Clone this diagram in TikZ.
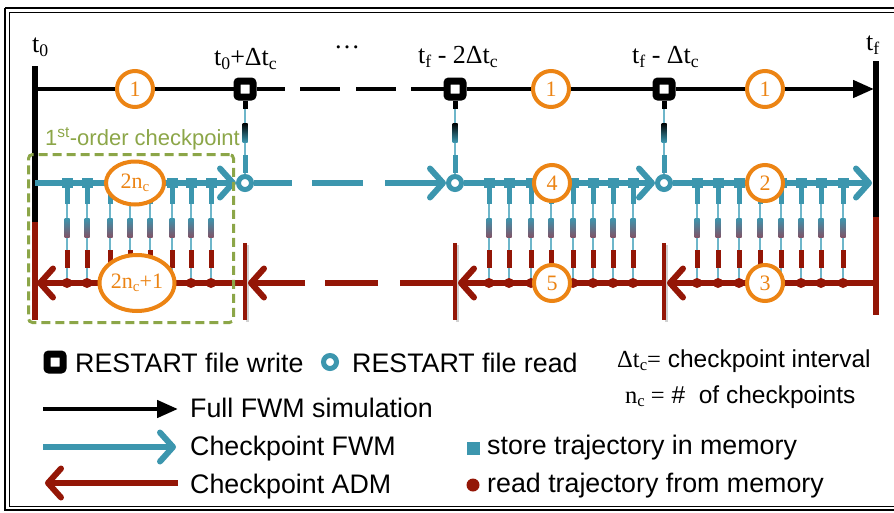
\documentclass[tikz,border=0pt]{standalone}
\usepackage{fontspec}
\setmainfont{Liberation Serif}
\newfontfamily\lsans{Liberation Sans}
\usetikzlibrary{arrows.meta,shapes.geometric,calc,backgrounds}
\definecolor{cblue}{RGB}{60,150,174}
\definecolor{cthin}{RGB}{110,182,202}
\definecolor{cred}{RGB}{148,22,6}
\definecolor{cmix}{RGB}{128,84,104}
\definecolor{corange}{RGB}{236,132,20}
\definecolor{cgreen}{RGB}{140,166,72}
\newcommand\sbx[1]{\raisebox{-0.35ex}{\scalebox{0.68}{#1}}}
\begin{document}
\begin{tikzpicture}[x=1pt,y=-1pt,
 blk/.style={line width=4.5pt, black},
 bln/.style={line width=6pt, cblue},
 rdn/.style={line width=6pt, cred},
 barb/.style={-{Straight Barb[length=13pt,width=29pt,round]}},
 tri/.style={-{Triangle[length=21pt,width=17pt]}},
 wbox/.style={draw=black, fill=white, line width=7pt, rounded corners=2pt, minimum size=16pt, inner sep=0pt},
 rcirc/.style={circle, draw=cblue, fill=white, line width=5pt, minimum size=13pt, inner sep=0pt},
 numc/.style={circle, draw=corange, fill=white, line width=4pt, minimum size=36pt, inner sep=0pt, text=corange, font=\fontsize{22}{24}\selectfont},
 nume/.style={ellipse, draw=corange, fill=white, line width=4pt, inner sep=0pt, text=corange, font=\fontsize{22}{24}\selectfont},
 tlab/.style={anchor=base west, inner sep=0pt, font=\fontsize{26}{28}\selectfont},
 leg/.style={anchor=base west, inner sep=0pt, font=\lsans\fontsize{26.8}{28}\selectfont},
 legs/.style={anchor=base west, inner sep=0pt, font=\lsans\fontsize{24.5}{28}\selectfont},
 redbar/.style={cred, line width=4pt},
]
\useasboundingbox (0,0) rectangle (894,512);
% frame
\draw[line width=2.4pt] (5,8) -- (894,8);
\draw[line width=1pt] (9,12) -- (894,12);
\draw[line width=1.4pt] (5,8) -- (5,510) -- (894,510);
\draw[line width=1pt] (9,12) -- (9,506) -- (894,506);

% coordinates
\coordinate (Lt) at (35,66); \coordinate (Lm) at (35,222); \coordinate (Lb) at (35,320);
\coordinate (Rt) at (876,61); \coordinate (Rm) at (876,217); \coordinate (Rb) at (876,315);
\coordinate (tl0) at (35,89); \coordinate (tR) at (874,89);
\coordinate (bl0) at (35,183); \coordinate (bR) at (872,183);
\coordinate (rl0) at (37,283); \coordinate (rR) at (876,283);
\coordinate (rb1) at (245,283); \coordinate (rb2) at (455,283); \coordinate (rb3) at (664,283);
\coordinate (rb1e) at (248,283); \coordinate (rb2e) at (458,283); \coordinate (rb3e) at (667,283);

% nodes
\node[wbox] (w1) at (245,89) {};
\node[wbox] (w2) at (455,89) {};
\node[wbox] (w3) at (664,89) {};
\node[rcirc] (r1) at (245,183) {};
\node[rcirc] (r2) at (455,183) {};
\node[rcirc] (r3) at (664,183) {};
\node[numc] (n1a) at (135,89) {1};
\node[numc] (n1b) at (551,89) {1};
\node[numc] (n1c) at (765,89) {1};
\node[numc] (n4) at (552,183) {4};
\node[numc] (n5) at (552,283) {5};
\node[numc] (n2) at (765,183) {2};
\node[numc] (n3) at (765,283) {3};
\node[nume, minimum width=58pt, minimum height=43pt] (e1) at (135,183) {2n\sbx{c}};
\node[nume, minimum width=75pt, minimum height=56pt] (e2) at (137,283) {2n\sbx{c}+1};
\node[draw=cgreen, line width=3pt, dash pattern=on 9pt off 5pt, rounded corners=4pt, minimum width=205pt, minimum height=168pt, inner sep=0pt] (gb) at (131,238.5) {};
\node[anchor=base west, inner sep=0pt, text=cgreen, font=\lsans\fontsize{22}{24}\selectfont] (gl) at (45,145) {1\textsuperscript{st}-order checkpoint};

% time labels
\node[tlab] (lt0) at (32,52) {t\sbx{0}};
\node[tlab] (lt1) at (214,65) {t\sbx{0}+Δt\sbx{c}};
\node[tlab] (ldots) at (334,48) {…};
\node[tlab] (lt2) at (418,63) {t\sbx{f} - 2Δt\sbx{c}};
\node[tlab] (lt3) at (632,63) {t\sbx{f} - Δt\sbx{c}};
\node[tlab] (ltf) at (866,50) {t\sbx{f}};

\begin{scope}[on background layer]
% main bars
\draw[line width=6pt] (Lt) -- (Lm);
\draw[cred, line width=6pt] (Lm) -- (Lb);
\draw[line width=6pt] (Rt) -- (Rm);
\draw[cred, line width=6pt] (Rm) -- (Rb);
% vertical write->read connectors
\foreach \k in {1,2,3} {
  \draw[cthin, line width=1.5pt] (w\k) -- (r\k);
  \draw[black, line width=5pt] (w\k.south) -- ++(0,8);
  \shade[top color=black, bottom color=cblue] ($(w\k)+(-2.5,34)$) rectangle ($(w\k)+(2.5,53)$);
  \draw[cblue, line width=5pt] ($(w\k)+(0,66)$) -- ($(w\k)+(0,84)$);
}
% black timeline
\draw[blk] (tl0) -- (w1);
\draw[blk, dash pattern=on 28.5pt off 15pt on 40pt off 16pt on 40pt off 15pt on 80pt] (w1) -- (w2);
\draw[blk] (w2) -- (w3);
\draw[blk, tri] (w3) -- (tR);
% blue line
\draw[bln, barb] (bl0) -- (r1);
\draw[bln, barb, dash pattern=on 38pt off 20pt on 51pt off 22pt on 200pt] (r1) -- (r2);
\draw[bln, barb] (r2) -- (r3);
\draw[bln, barb] (r3) -- (bR);
% red bars with shadow
\foreach \k in {1,2,3} {
  \draw[black!18, line width=3pt] ($(rb\k)+(2.5,-38)$) -- ($(rb\k)+(2.5,39)$);
  \draw[redbar] ($(rb\k)+(0,-40)$) -- ($(rb\k)+(0,37)$);
}
% red line
\draw[rdn, barb] (rb1) -- (rl0);
\draw[rdn, barb, dash pattern=on 55pt off 22pt on 53pt off 20pt on 200pt] (rb2) -- (rb1e);
\draw[rdn, barb] (rb3) -- (rb2e);
\draw[rdn, barb] (rR) -- (rb3e);
% trajectory ticks
\foreach \x [count=\i] in {67,87,110,130,150,172,191,211,489,509,531,551,573,593,613,633,697,718,739,760,781,801,821,843} {
  \coordinate (s\i) at (\x,183);
  \coordinate (d\i) at (\x,283);
  \draw[cthin, line width=1.5pt] (s\i) -- (d\i);
  \draw[cblue, line width=5pt] (s\i) -- ($(s\i)+(0,21)$);
  \fill[cblue] ($(s\i)+(-5.5,-5)$) rectangle ($(s\i)+(5.5,5)$);
  \shade[top color=cblue, bottom color=cmix] ($(s\i)+(-2.5,35)$) rectangle ($(s\i)+(2.5,54)$);
  \draw[cred, line width=5pt] ($(s\i)+(0,67)$) -- ($(s\i)+(0,85)$);
  \fill[cred] (d\i) circle[radius=5pt];
}
\end{scope}

% legend
\node[wbox] (lgw) at (55,362) {};
\node[leg] (lgwt) at (75,372) {RESTART file write};
\node[rcirc] (lgr) at (330,362) {};
\node[leg] (lgrt) at (352,372) {RESTART file read};
\node[legs] (lgdt) at (617,367) {{\rmfamily Δt\sbx{c}=} checkpoint interval};
\node[legs] (lgnc) at (625,403) {{\rmfamily n\sbx{c} =} \#\ \ of checkpoints};
\coordinate (la1s) at (43,409); \coordinate (la1e) at (178,409);
\coordinate (la2s) at (43,447); \coordinate (la2e) at (176,447);
\coordinate (la3s) at (178,483); \coordinate (la3e) at (45,483);
\draw[blk, tri] (la1s) -- (la1e);
\draw[bln, barb] (la2s) -- (la2e);
\draw[rdn, barb] (la3s) -- (la3e);
\node[leg] (lg1) at (190,417) {Full FWM simulation};
\node[leg] (lg2) at (190,455) {Checkpoint FWM};
\node[leg] (lg3) at (190,493) {Checkpoint ADM};
\node[fill=cblue, minimum size=13pt, inner sep=0pt] (lgs) at (473.5,448.5) {};
\node[leg] (lg4) at (487,454) {store trajectory in memory};
\node[circle, fill=cred, minimum size=13pt, inner sep=0pt] (lgd) at (473,485) {};
\node[leg] (lg5) at (487,492) {read trajectory from memory};
\end{tikzpicture}
\end{document}
